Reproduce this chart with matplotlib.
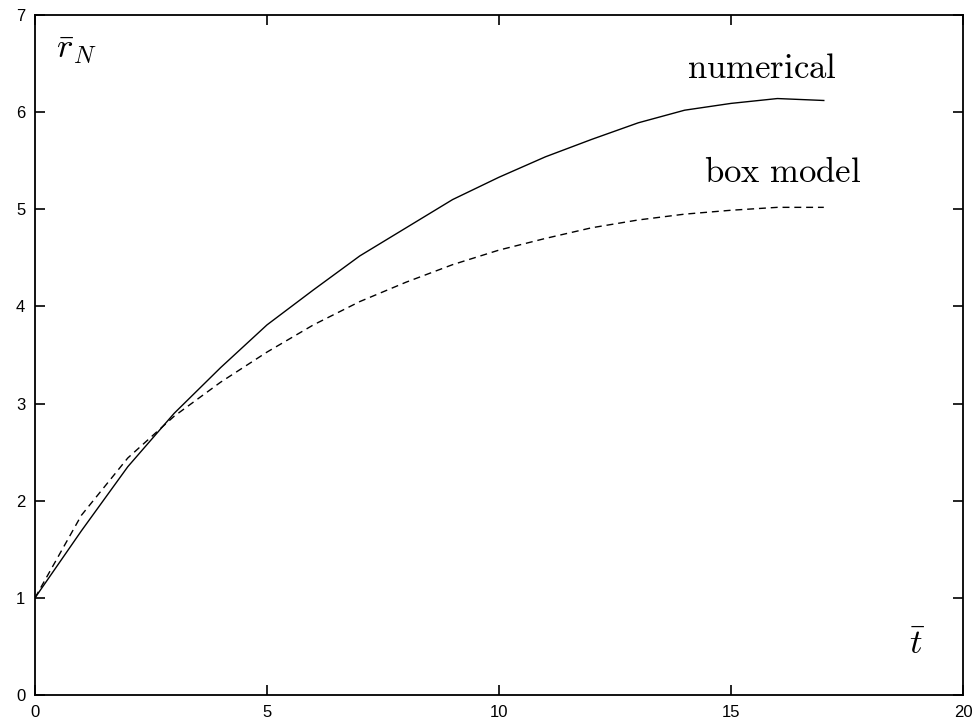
import matplotlib
matplotlib.use("Agg")
import matplotlib.pyplot as plt

plt.rcParams['mathtext.fontset'] = 'cm'

t = [0, 1, 2, 3, 4, 5, 6, 7, 8, 9, 10, 11, 12, 13, 14, 15, 16, 17]
numerical = [1.0, 1.69, 2.35, 2.90, 3.37, 3.81, 4.17, 4.52, 4.81, 5.10, 5.33,
             5.54, 5.72, 5.89, 6.02, 6.09, 6.14, 6.12]
box_model = [1.0, 1.85, 2.44, 2.87, 3.22, 3.53, 3.81, 4.05, 4.25, 4.43, 4.58,
             4.70, 4.81, 4.89, 4.95, 4.99, 5.02, 5.02]

xticks = [0, 5, 10, 15, 20]
yticks = [0, 1, 2, 3, 4, 5, 6, 7]

fig = plt.figure(figsize=(9.73, 7.25), dpi=100)
ax = fig.add_axes([35/973, 30/725, 928/973, 680/725])

ax.plot(t, numerical, color='black', lw=1.0, ls='-')
ax.plot(t, box_model, color='black', lw=1.0, ls=(0, (5, 3.5)))

ax.set_xlim(0, 20)
ax.set_ylim(0, 7)
ax.set_xticks(xticks)
ax.set_yticks(yticks)
ax.tick_params(direction='in', length=7, width=1.2, top=True, right=True,
               labelsize=12, pad=7)
for lab in ax.get_xticklabels() + ax.get_yticklabels():
    lab.set_family('Liberation Sans')
for s in ax.spines.values():
    s.set_linewidth(1.3)

ax.text(15.67, 6.45, r'$\mathrm{numerical}$', fontsize=25, ha='center', va='center')
ax.text(16.1, 5.38, r'$\mathrm{box\ model}$', fontsize=25, ha='center', va='center')
ax.text(0.45, 6.65, r'$\bar{r}_N$', fontsize=25, ha='left', va='center')
ax.text(19.0, 0.52, r'$\bar{t}$', fontsize=25, ha='center', va='center')

fig.savefig('out.png', dpi=100)
